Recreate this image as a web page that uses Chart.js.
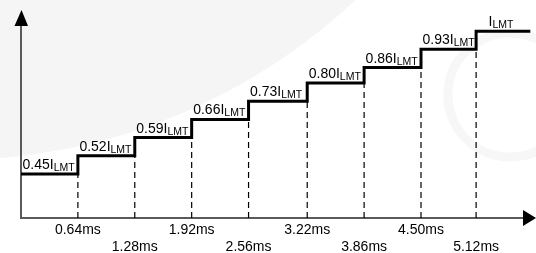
<!DOCTYPE html>
<html>
<head>
<meta charset="utf-8">
<script src="https://cdn.jsdelivr.net/npm/chart.js@4"></script>
<style>
  html, body { margin: 0; padding: 0; background: #fff; }
  canvas { display: block; }
</style>
</head>
<body>
<canvas id="grafica" width="536" height="253"></canvas>
<script>
// step times (ms) and current levels (fraction of I_LMT)
const stepTimes = [0.64, 1.28, 1.92, 2.56, 3.22, 3.86, 4.50, 5.12];
const tickLabels = ['0.64ms', '1.28ms', '1.92ms', '2.56ms', '3.22ms', '3.86ms', '4.50ms', '5.12ms'];
const levels = [0.45, 0.52, 0.59, 0.66, 0.73, 0.80, 0.86, 0.93, 1.00];
const levelLabels = ['0.45', '0.52', '0.59', '0.66', '0.73', '0.80', '0.86', '0.93', ''];
const endTime = 5.73;

const yMin = 0.28, yMax = 1.02;
const fuente = "'Liberation Sans', Arial, sans-serif";

var puntos = [{ x: 0, y: levels[0] }];
stepTimes.forEach(function (t, i) { puntos.push({ x: t, y: levels[i + 1] }); });
puntos.push({ x: endTime, y: levels[levels.length - 1] });

var datasets = [{
    data: puntos,
    borderColor: '#000',
    borderWidth: 3,
    stepped: true,
    pointRadius: 0,
    borderJoinStyle: 'miter',
    clip: false,
    order: 0
}];

// dashed markers down to the time axis
stepTimes.forEach(function (t, i) {
    datasets.push({
        data: [{ x: t, y: yMin }, { x: t, y: levels[i] }],
        borderColor: '#000',
        borderWidth: 1.2,
        borderDash: [6, 4],
        pointRadius: 0,
        order: 1
    });
});

const fondo = {
    id: 'fondo',
    beforeDraw(chart) {
        const ctx = chart.ctx;
        ctx.save();
        ctx.fillStyle = '#fff';
        ctx.fillRect(0, 0, chart.width, chart.height);
        ctx.fillStyle = '#f5f5f5';
        ctx.beginPath();
        ctx.arc(-48, -429, 589, 0, Math.PI * 2);
        ctx.fill();
        ctx.strokeStyle = '#f7f7f7';
        ctx.lineWidth = 9;
        ctx.beginPath();
        ctx.arc(510, 95, 62, 0, Math.PI * 2);
        ctx.stroke();
        ctx.restore();
    }
};

const etiquetas = {
    id: 'etiquetas',
    afterDatasetsDraw(chart) {
        const ctx = chart.ctx;
        const xs = chart.scales.x, ys = chart.scales.y;
        const area = chart.chartArea;
        ctx.save();
        ctx.fillStyle = '#000';
        ctx.textBaseline = 'alphabetic';
        levels.forEach(function (v, i) {
            var x = xs.getPixelForValue(i == 0 ? 0 : stepTimes[i - 1]) + 1.5;
            if (levelLabels[i] === '') x += 11;
            var y = ys.getPixelForValue(v) - 5;
            ctx.font = '14px ' + fuente;
            var txt = levelLabels[i] + 'I';
            ctx.fillText(txt, x, y);
            var w = ctx.measureText(txt).width;
            ctx.font = '10.5px ' + fuente;
            ctx.fillText('LMT', x + w, y + 2);
        });

        // arrows on the axes
        ctx.fillStyle = '#000';
        ctx.beginPath();
        ctx.moveTo(area.left - 6.5, area.top);
        ctx.lineTo(area.left + 7, area.top);
        ctx.lineTo(area.left + 0.5, area.top - 16);
        ctx.closePath();
        ctx.fill();
        ctx.beginPath();
        ctx.moveTo(area.right - 10, area.bottom - 8);
        ctx.lineTo(area.right - 10, area.bottom + 8);
        ctx.lineTo(area.right + 3, area.bottom);
        ctx.closePath();
        ctx.fill();
        ctx.restore();
    }
};

new Chart(document.getElementById('grafica'), {
    type: 'line',
    data: { datasets: datasets },
    options: {
        responsive: false,
        animation: false,
        devicePixelRatio: 1,
        layout: { padding: { left: 21, top: 26, right: 3, bottom: 0 } },
        plugins: { legend: { display: false }, tooltip: { enabled: false } },
        scales: {
            x: {
                type: 'linear',
                min: 0,
                max: 5.76,
                grid: { display: false, drawTicks: false },
                border: { color: '#5a5a5a', width: 2 },
                afterBuildTicks: function (axis) {
                    axis.ticks = stepTimes.map(function (t) { return { value: t }; });
                },
                afterFit: function (axis) { axis.height = 35; },
                ticks: {
                    color: '#000',
                    padding: 3.5,
                    maxRotation: 0,
                    autoSkip: false,
                    font: { family: fuente, size: 14 },
                    callback: function (value, index) {
                        return index % 2 ? ['', tickLabels[index]] : [tickLabels[index], ''];
                    }
                }
            },
            y: {
                min: yMin,
                max: yMax,
                grid: { display: false, drawTicks: false },
                border: { color: '#5a5a5a', width: 2 },
                afterFit: function (axis) { axis.width = 0; },
                ticks: { display: false }
            }
        }
    },
    plugins: [fondo, etiquetas]
});
</script>
</body>
</html>
